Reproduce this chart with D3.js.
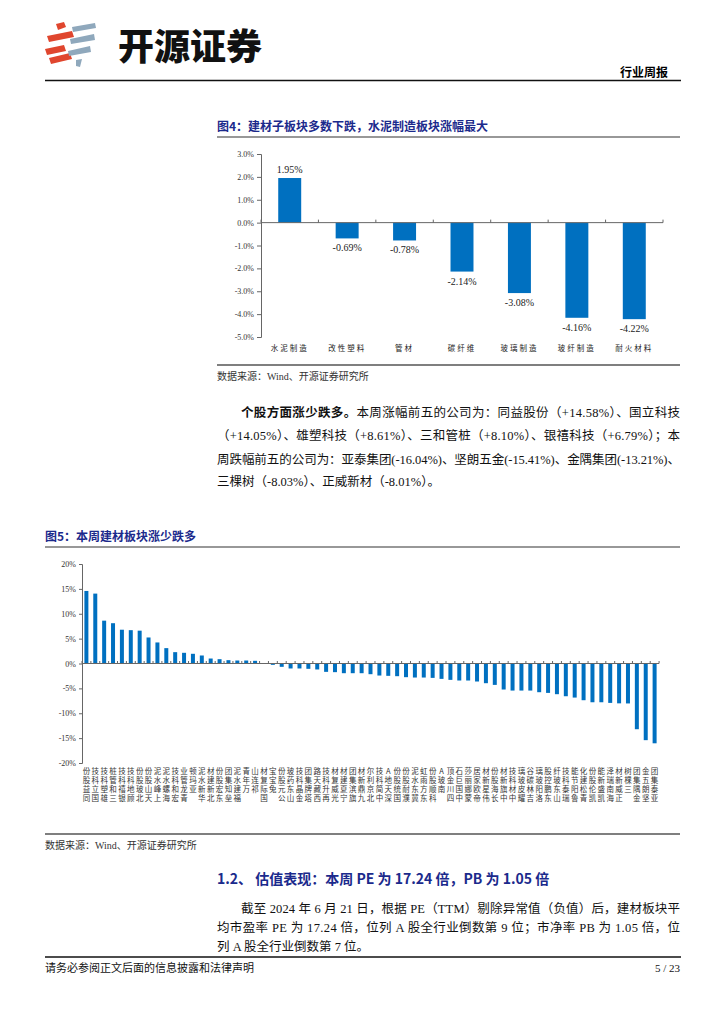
<!DOCTYPE html>
<html lang="zh">
<head>
<meta charset="UTF-8">
<title>行业周报 5/23</title>
<script src="https://d3js.org/d3.v7.min.js"></script>
<style>
  body { margin: 0; background: #fff; }
  svg text { font-family: "Liberation Serif", "Noto Sans CJK SC", serif; }
  .cjk { font-family: "Noto Sans CJK SC", sans-serif; }
  .axis text { font-family: "Liberation Serif", serif; font-size: 8px; fill: #333; }
  .axis path, .axis line { stroke: #666; }
</style>
</head>
<body>
<div id="page"></div>
<script>
// ---- figure 4 data: sub-sector weekly change (%)
const subSectors = ["水泥制造", "改性塑料", "管材", "碳纤维", "玻璃制造", "玻纤制造", "耐火材料"];
const subChange = [1.95, -0.69, -0.78, -2.14, -3.08, -4.16, -4.22];
const fig4Ticks = [3, 2, 1, 0, -1, -2, -3, -4, -5];

// ---- figure 5 data: individual stocks weekly change (%)
const stocks = [
  "同益股份", "国立科技", "雄塑科技", "三和管桩", "银禧科技", "顾地科技", "北玻股份", "天山股份",
  "上峰水泥", "海螺水泥", "宏和科技", "青龙管业", "亚玛顿", "华新水泥", "北新建材", "东宏股份",
  "垒知集团", "福建水泥", "万年青", "祁连山", "国际复材", "兔宝宝", "公元股份", "山东药玻",
  "金晶科技", "塔牌集团", "西藏天路", "再升科技", "光威复材", "宁夏建材", "旗滨集团", "九鼎新材",
  "北京利尔", "中简科技", "深天地A", "国统股份", "濮耐股份", "冀东水泥", "东方雨虹", "科顺股份",
  "南玻A", "四川金顶", "中国巨石", "蒙娜丽莎", "帝欧家居", "伟星新材", "长海股份", "中旗新材",
  "中材科技", "耀皮玻璃", "吉林碳谷", "洛阳玻璃", "东鹏控股", "山东玻纤", "瑞泰科技", "鲁阳节能",
  "青松建化", "凯伦股份", "凯盛新能", "海南瑞泽", "正威新材", "三棵树", "金隅集团", "坚朗五金",
  "亚泰集团"
];
const stockChange = [
  14.58, 14.05, 8.61, 8.10, 6.79, 6.70, 6.60, 5.23,
  4.23, 3.09, 2.28, 2.15, 1.95, 1.61, 1.00, 0.87,
  0.67, 0.60, 0.60, 0.54, 0.03, -0.27, -0.67, -1.00,
  -1.00, -1.07, -1.20, -1.68, -1.74, -1.95, -1.95, -1.95,
  -2.15, -2.42, -2.48, -2.55, -2.75, -2.82, -2.82, -2.89,
  -3.09, -3.29, -3.42, -3.42, -3.62, -3.96, -4.30, -5.23,
  -5.44, -5.44, -5.44, -5.77, -5.91, -6.17, -6.58, -6.85,
  -7.38, -7.79, -7.79, -7.92, -8.01, -8.03, -13.21, -15.41,
  -16.04
];
const fig5Ticks = [20, 15, 10, 5, 0, -5, -10, -15, -20];

const barBlue = "#0070C0";
const navy = "#1B2A8C";

const svg = d3.select("#page").append("svg")
  .attr("width", 724)
  .attr("height", 1024);

// ---------------- header ----------------
const logo = svg.append("g");
const red = "#E0462E", steel = "#8FA8BC";
[
  [[56, 24], [64, 22], [66, 27], [58, 30]],
  [[47, 36], [72, 31], [74, 37], [49, 42]],
  [[45, 49], [64, 45], [66, 51], [47, 55]],
  [[49, 58], [70, 53], [72, 59], [51, 64]]
].forEach(p => logo.append("polygon").attr("points", p.join(" ")).attr("fill", red));
[
  [[72, 27], [95, 23], [96, 28], [73, 32]],
  [[70, 39], [94, 34], [95, 40], [71, 44]],
  [[68, 51], [90, 46], [91, 52], [69, 56]],
  [[76, 60], [82, 59], [80, 67], [76, 66]]
].forEach(p => logo.append("polygon").attr("points", p.join(" ")).attr("fill", steel));

svg.append("text").attr("class", "cjk")
  .attr("x", 118).attr("y", 60)
  .style("font-size", "36px").style("font-weight", 900).style("fill", "#111")
  .text("开源证券");

svg.append("text").attr("class", "cjk")
  .attr("x", 668).attr("y", 77).attr("text-anchor", "end")
  .style("font-size", "12px").style("font-weight", 700)
  .text("行业周报");

svg.append("line").attr("x1", 45).attr("x2", 681).attr("y1", 80.5).attr("y2", 80.5)
  .attr("stroke", "#111").attr("stroke-width", 1.4);

// helpers
function figTitle(x, y, x2, label) {
  svg.append("text").attr("class", "cjk").attr("x", x).attr("y", y)
    .style("font-size", "12px").style("font-weight", 700).style("fill", navy)
    .text(label);
  svg.append("line").attr("x1", x).attr("x2", x2).attr("y1", y + 6).attr("y2", y + 6)
    .attr("stroke", "#333").attr("stroke-width", 1.2);
}
function source(x, y, x2) {
  svg.append("line").attr("x1", x).attr("x2", x2).attr("y1", y - 15).attr("y2", y - 15)
    .attr("stroke", "#555").attr("stroke-width", 1.5);
  svg.append("text").attr("x", x).attr("y", y)
    .style("font-size", "10px").style("fill", "#333")
    .text("数据来源：Wind、开源证券研究所");
}
function para(x, y, width, parts, justify) {
  const t = svg.append("text").attr("x", x).attr("y", y)
    .style("font-size", "12.5px").style("fill", "#111");
  parts.forEach(p => t.append("tspan")
    .style("font-weight", p.bold ? 700 : 400)
    .attr("class", p.bold ? "cjk" : null)
    .text(p.s));
  if (justify) t.attr("textLength", width).attr("lengthAdjust", "spacing");
}

// ---------------- figure 4 ----------------
figTitle(217, 131, 680, "图4：建材子板块多数下跌，水泥制造板块涨幅最大");

const y4 = d3.scaleLinear().domain([-5, 3]).range([337, 154]);
const x4 = d3.scaleBand().domain(subSectors).range([261, 663]).paddingInner(0.6).paddingOuter(0.3);
const g4 = svg.append("g");

g4.append("g").attr("class", "axis")
  .attr("transform", "translate(261,0)")
  .call(d3.axisLeft(y4).tickValues(fig4Ticks).tickSize(4).tickFormat(d => d.toFixed(1) + "%"));

g4.selectAll("rect").data(subChange).join("rect")
  .attr("x", (d, i) => x4(subSectors[i]))
  .attr("width", x4.bandwidth())
  .attr("y", d => y4(Math.max(0, d)))
  .attr("height", d => Math.abs(y4(d) - y4(0)))
  .attr("fill", barBlue);

const step4 = x4.step();
const bounds4 = d3.range(subSectors.length + 1).map(i => 261 + i * step4);
g4.append("line").attr("x1", 261).attr("x2", 663).attr("y1", y4(0)).attr("y2", y4(0))
  .attr("stroke", "#666");
g4.selectAll("line.tk").data(bounds4).join("line").attr("class", "tk")
  .attr("x1", d => d).attr("x2", d => d)
  .attr("y1", y4(0) - 3).attr("y2", y4(0)).attr("stroke", "#666");

g4.selectAll("text.val").data(subChange).join("text").attr("class", "val")
  .attr("x", (d, i) => x4(subSectors[i]) + x4.bandwidth() / 2)
  .attr("y", d => d >= 0 ? y4(d) - 5 : y4(d) + 13)
  .attr("text-anchor", "middle")
  .style("font-size", "10px").style("fill", "#222")
  .text(d => d.toFixed(2) + "%");

g4.selectAll("text.cat").data(subSectors).join("text").attr("class", "cat cjk")
  .attr("x", d => x4(d) + x4.bandwidth() / 2)
  .attr("y", 351)
  .attr("text-anchor", "middle")
  .style("font-size", "7.5px").style("letter-spacing", "2px").style("fill", "#222")
  .text(d => d);

source(217, 380, 680);

// ---------------- paragraph ----------------
para(241, 417, 439, [
  { s: "个股方面涨少跌多。", bold: true },
  { s: "本周涨幅前五的公司为：同益股份（+14.58%）、国立科技" }
], true);
para(217, 440, 463, [{ s: "（+14.05%）、雄塑科技（+8.61%）、三和管桩（+8.10%）、银禧科技（+6.79%）；本" }], true);
para(217, 464, 463, [{ s: "周跌幅前五的公司为：亚泰集团(-16.04%)、坚朗五金(-15.41%)、金隅集团(-13.21%)、" }], true);
para(217, 486, 0, [{ s: "三棵树（-8.03%）、正威新材（-8.01%）。" }], false);

// ---------------- figure 5 ----------------
figTitle(45, 541, 680, "图5：本周建材板块涨少跌多");

const y5 = d3.scaleLinear().domain([-20, 20]).range([763, 564]);
const x5 = d3.scaleBand().domain(stocks).range([82, 659]).paddingInner(0.55).paddingOuter(0.27);
const g5 = svg.append("g");

g5.append("g").attr("class", "axis")
  .attr("transform", "translate(82,0)")
  .call(d3.axisLeft(y5).tickValues(fig5Ticks).tickSize(3).tickFormat(d => d + "%"));

g5.selectAll("rect").data(stockChange).join("rect")
  .attr("x", (d, i) => x5(stocks[i]))
  .attr("width", x5.bandwidth())
  .attr("y", d => y5(Math.max(0, d)))
  .attr("height", d => Math.abs(y5(d) - y5(0)))
  .attr("fill", barBlue);

const step5 = x5.step();
const bounds5 = d3.range(stocks.length + 1).map(i => 82 + i * step5);
g5.append("line").attr("x1", 82).attr("x2", 659).attr("y1", y5(0)).attr("y2", y5(0))
  .attr("stroke", "#666");
g5.selectAll("line.tk").data(bounds5).join("line").attr("class", "tk")
  .attr("x1", d => d).attr("x2", d => d)
  .attr("y1", y5(0) - 2.5).attr("y2", y5(0)).attr("stroke", "#666");

// stacked names: last character at the top row, read upward
const nameG = g5.selectAll("g.name").data(stocks).join("g").attr("class", "name")
  .attr("transform", d => `translate(${x5(d) + x5.bandwidth() / 2},0)`);
nameG.selectAll("text").data(d => Array.from(d).map((c, i, a) => ({ c, row: a.length - 1 - i })))
  .join("text").attr("class", "cjk")
  .attr("x", 0)
  .attr("y", d => 774 + d.row * 9)
  .attr("text-anchor", "middle")
  .style("font-size", "7.5px").style("fill", "#333")
  .text(d => d.c);

source(45, 849, 680);

// ---------------- section 1.2 ----------------
svg.append("text").attr("class", "cjk").attr("x", 217).attr("y", 884)
  .style("font-size", "14px").style("font-weight", 700).style("fill", navy)
  .text("1.2、 估值表现：本周 PE 为 17.24 倍，PB 为 1.05 倍");

para(241, 913, 439, [{ s: "截至 2024 年 6 月 21 日，根据 PE（TTM）剔除异常值（负值）后，建材板块平" }], true);
para(217, 932, 463, [{ s: "均市盈率 PE 为 17.24 倍，位列 A 股全行业倒数第 9 位；市净率 PB 为 1.05 倍，位" }], true);
para(217, 951, 0, [{ s: "列 A 股全行业倒数第 7 位。" }], false);

// ---------------- footer ----------------
svg.append("line").attr("x1", 45).attr("x2", 681).attr("y1", 957).attr("y2", 957)
  .attr("stroke", "#111").attr("stroke-width", 1.4);
svg.append("text").attr("x", 45).attr("y", 972)
  .style("font-size", "11px").style("fill", "#111")
  .text("请务必参阅正文后面的信息披露和法律声明");
svg.append("text").attr("x", 680).attr("y", 972).attr("text-anchor", "end")
  .style("font-size", "11px").style("fill", "#111")
  .text("5 / 23");
</script>
</body>
</html>
